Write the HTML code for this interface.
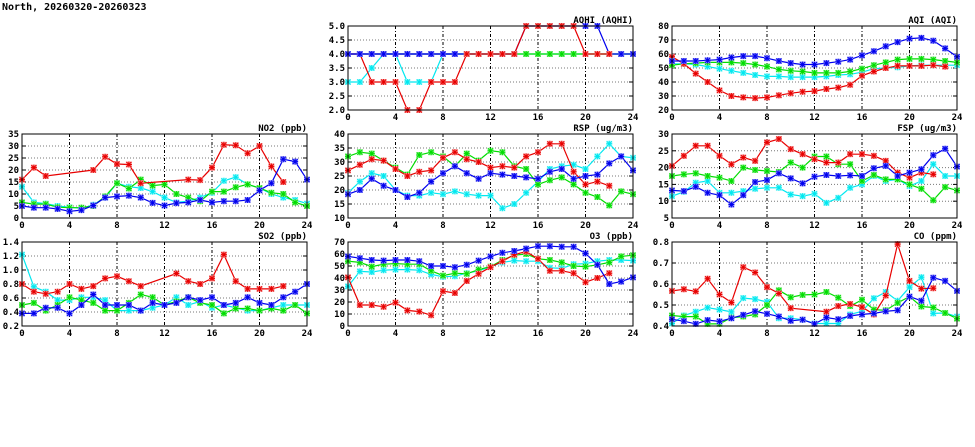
<!DOCTYPE html>
<html><head><meta charset="utf-8"><style>
html,body{margin:0;padding:0;background:#fff;width:975px;height:447px;overflow:hidden}
svg text{font-family:"DejaVu Sans Mono","Liberation Mono",monospace;font-weight:bold;font-size:9px;fill:#000}
</style></head><body>
<svg id="s" width="975" height="447" xmlns="http://www.w3.org/2000/svg">
<text x="2" y="10" style="font-size:10px">North, 20260320-20260323</text>
</svg>
<script>
var N=null;
var P=[
{t:"AQHI (AQHI)",x0:348,x1:633,y0:26,y1:110,min:2,max:5,step:0.5,dec:1,order:["c","g","b","r","bt"],
 c:[3,3,3.5,4,4,3,3,3,4,4,4,4,4,4,4,4,4,4,4,4,4,4,4,4,4],
 g:[4,4,4,4,4,4,4,4,4,4,4,4,4,4,4,4,4,4,4,4,4,4,4,4,4],
 r:[4,4,3,3,3,2,2,3,3,3,4,4,4,4,4,5,5,5,5,5,4,4,4,N,N],
 b:[4,4,4,4,4,4,4,4,4,4,4,4,4,4,4,5,5,5,5,5,5,5,4,4,4],
 bt:[4,4,4,4,4,4,4,4,4,4]},
{t:"AQI (AQI)",x0:672,x1:957,y0:26,y1:110,min:20,max:80,step:10,dec:0,
 b:[55,55,55,55.5,56,57.5,58.5,58.5,57,55,53.5,52.5,52.5,53.5,54.5,56,59,62,65.5,68.5,71,71.5,69.5,64,58],
 g:[52,53,53.5,54,54,54,53.5,52.5,51,49,48,47.5,46.5,46.5,46.5,47.5,49.5,52,54,56,56.5,56.5,56,55,54],
 c:[53,53,52.5,51,49.5,48,46.5,45,44,44,43.5,43.5,43.5,44,45,45.5,47,49.5,50,50.5,51.5,52,52,52,52],
 r:[58,53,46,40,34,30,29,28.5,29,30.5,32,33,33.5,35,36,38,44.5,47.5,50,51.5,51.5,51.5,52,51,N]},
{t:"NO2 (ppb)",x0:22,x1:307,y0:134,y1:218,min:0,max:35,step:5,dec:0,
 r:[16,21,17.5,N,N,N,20,25.5,22.5,22.3,14.5,N,N,N,16,15.8,21,30.5,30.3,27,30,21.5,15,N,N],
 g:[6.5,5.8,5.8,4.5,4.3,4.3,5,9,14.5,12.3,16,13.5,14,10,8.5,7,11,11,12.8,14,12.5,10.5,10,6.5,5],
 c:[13,6.5,6,5,4.5,4,5.5,8.5,14.5,13,12.5,11,8.5,6.5,7,8.5,10.5,15.5,17,14,12.5,10,8.5,7.5,6],
 b:[5,4.3,4.3,3.8,2.8,3.3,5.2,8.5,9,9.3,8.5,6.3,5.2,6.2,6.5,7.5,6.5,7,7,7.5,11.5,14.5,24.5,23.5,16]},
{t:"RSP (ug/m3)",x0:348,x1:633,y0:134,y1:218,min:10,max:40,step:5,dec:0,
 r:[27,29,31,30.5,27.5,25,26.5,27,31.5,33.5,31,30,28,28.5,28,32,33.5,36.5,36.5,26.5,22,23,21.5,N,N],
 g:[32,33.5,33,30.5,28,25.5,32.5,33.5,32,28.5,33,30.5,34,33.5,28.5,27.5,22,23.5,24.5,22,19,17.5,14.5,19.5,18.5],
 c:[19,23,26,25,20,18,18,19,18.5,19.5,18.5,18,18,13.5,15,19,23,27.5,28.5,29,27.5,32,36.5,32,31.5],
 b:[18.5,20,24,21.5,20,17.5,19,23,26,28.5,26,24,26,25.5,25,24.5,24,26.5,27.5,24,25,25.5,29.5,32,27]},
{t:"FSP (ug/m3)",x0:672,x1:957,y0:134,y1:218,min:5,max:30,step:5,dec:0,
 r:[20.5,23.5,26.5,26.5,23.5,21,23,22,27.5,28.5,25.5,24,22.5,21.5,21.5,24,24,23.5,22,18.5,17,18.5,18,N,N],
 g:[17.5,18,18.3,17.5,17,16,20,19.3,19,18.7,21.5,20,23.3,23.3,21,21,16,17.8,16.5,16.5,15,13.7,10.3,14.2,13.2],
 c:[11.5,12.8,15.5,16,12.5,12.5,13,13.7,14,14,12,11.5,12.2,9.5,11,14,15,17.5,16,16.5,14.5,16,21,17.5,17.5],
 b:[13.2,13,14.3,12.5,11.8,9,11.8,15.7,16.3,18.3,16.8,15.3,17.3,17.8,17.5,17.7,17.5,19.8,20.5,17.5,18.5,19.5,23.7,25.6,20.3]},
{t:"SO2 (ppb)",x0:22,x1:307,y0:242,y1:326,min:0.2,max:1.4,step:0.2,dec:1,
 r:[.8,.69,.66,.69,.8,.73,.77,.88,.91,.84,.77,N,N,.95,.84,.8,.88,1.22,.84,.73,.73,.73,.77,N,N],
 g:[.5,.53,.42,.5,.61,.57,.53,.42,.42,.53,.65,.61,.5,.55,.61,.53,.5,.38,.45,.45,.42,.45,.42,.5,.38],
 c:[1.22,.76,.69,.57,.57,.61,.61,.57,.42,.42,.42,.46,.5,.61,.5,.55,.46,.5,.46,.42,.42,.46,.5,.5,.5],
 b:[.38,.38,.46,.46,.38,.5,.65,.5,.5,.5,.42,.53,.5,.53,.61,.57,.61,.5,.53,.61,.53,.5,.61,.69,.8]},
{t:"O3 (ppb)",x0:348,x1:633,y0:242,y1:326,min:0,max:70,step:10,dec:0,
 b:[58,56.5,55,54.5,55,55,54,50,50,49,51,54.5,58,61,62.5,64.5,66.5,66.5,66,66,60.5,51,35,37,40.5],
 g:[54,53,49.5,51.5,52,51.5,51.5,46,42,44,43.5,47,49.5,55,59,60,56,55,53,50,49.5,51,53,58,59],
 c:[33,45.5,45,46.5,47,47,46.5,43,41,41.5,44,46,49.5,53,54.5,54,54,48.5,48,51.5,52,54,55,55,54.5],
 r:[40.5,17.5,17.5,16,19.5,13,12,9,29,27.5,37.5,43.5,49,54,59.5,62,56,46,46,44,36.5,40,44,N,N]},
{t:"CO (ppm)",x0:672,x1:957,y0:242,y1:326,min:0.4,max:0.8,step:0.1,dec:1,
 r:[.567,.575,.565,.625,.55,.512,.68,.655,.585,.555,.485,N,N,.468,.495,.505,.49,.455,.545,.79,.615,.578,.58,N,N],
 g:[.45,.445,.445,.41,.41,.44,.445,.455,.5,.57,.537,.548,.55,.562,.535,.495,.525,.478,.475,.51,.54,.493,.488,.462,.435],
 c:[.412,.45,.468,.487,.478,.467,.533,.528,.515,.437,.437,.43,.412,.412,.412,.455,.47,.532,.562,.52,.585,.632,.46,.462,.445],
 b:[.432,.423,.41,.428,.422,.437,.453,.47,.458,.445,.425,.43,.41,.44,.432,.448,.455,.46,.47,.475,.54,.52,.63,.615,.567]}
];
var COL={c:["#00e8f0","#a0f8f8"],g:["#00dd00","#90f090"],r:["#e80000","#f8a0a0"],b:["#0000ee","#9090f8"],bt:["#0000ee","#9090f8"]};
var h='';
P.forEach(function(p){
 var W=p.x1-p.x0,H=p.y1-p.y0;
 function X(i){return p.x0+W*i/24}
 function Y(v){return p.y1-H*(v-p.min)/(p.max-p.min)}
 var n=Math.round((p.max-p.min)/p.step);
 for(var k=0;k<=n;k++){var v=p.min+k*p.step,y=Y(v);
  if(k>0&&k<n)h+='<line x1="'+p.x0+'" x2="'+p.x1+'" y1="'+y+'" y2="'+y+'" stroke="#777" stroke-width="1" stroke-dasharray="1,2"/>';
  h+='<line x1="'+p.x0+'" x2="'+(p.x0+4)+'" y1="'+y+'" y2="'+y+'" stroke="#000"/><line x1="'+p.x1+'" x2="'+(p.x1-4)+'" y1="'+y+'" y2="'+y+'" stroke="#000"/>';
  h+='<text x="'+(p.x0-3)+'" y="'+(y+3)+'" text-anchor="end">'+v.toFixed(p.dec)+'</text>';}
 for(var i=0;i<=24;i+=4){var x=X(i);
  if(i>0&&i<24)h+='<line x1="'+x+'" x2="'+x+'" y1="'+p.y0+'" y2="'+p.y1+'" stroke="#000" stroke-width="1" stroke-dasharray="3,2,1,2"/>';
  h+='<text x="'+x+'" y="'+(p.y1+10)+'" text-anchor="middle">'+i+'</text>';}
 h+='<text x="'+p.x1+'" y="'+(p.y0-3)+'" text-anchor="end">'+p.t+'</text>';
 (p.order||["c","g","r","b"]).forEach(function(s){var d=p[s],pts=[];if(!d)return;
  d.forEach(function(v,i){if(v!==null)pts.push([X(i),Y(v)])});
  h+='<polyline fill="none" stroke="'+COL[s][0]+'" stroke-width="1.2" points="'+pts.map(function(q){return q[0].toFixed(1)+','+q[1].toFixed(1)}).join(' ')+'"/>';
  pts.forEach(function(q){var x=q[0],y=q[1];
   h+='<rect x="'+(x-3)+'" y="'+(y-3)+'" width="6" height="6" fill="'+COL[s][1]+'"/>';
   h+='<path d="M'+(x-3)+' '+y+'h6M'+x+' '+(y-3)+'v6M'+(x-2.5)+' '+(y-2.5)+'l5 5M'+(x+2.5)+' '+(y-2.5)+'l-5 5" stroke="'+COL[s][0]+'" stroke-width="1"/>';});
 });
 h+='<rect x="'+p.x0+'" y="'+p.y0+'" width="'+W+'" height="'+H+'" fill="none" stroke="#000" stroke-width="1"/>';
});
document.getElementById('s').insertAdjacentHTML('beforeend',h);
</script>
</body></html>
